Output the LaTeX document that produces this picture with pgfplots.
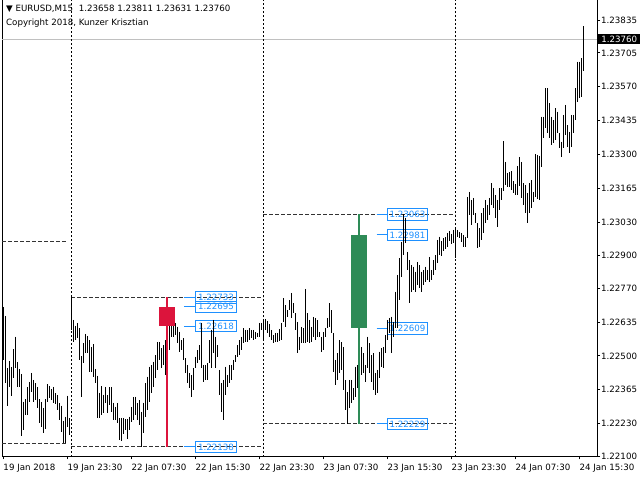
\documentclass[border=0pt]{standalone}
\usepackage{fontspec}
\setmainfont{DejaVu Sans}
\usepackage{pgfplots}
\pgfplotsset{compat=1.18}
\usepackage{pgfplotstable}

\definecolor{crimson}{HTML}{DC143C}
\definecolor{seagreen}{HTML}{2E8B57}
\definecolor{dodger}{HTML}{1E90FF}
\definecolor{bidgray}{HTML}{C0C0C0}

% EURUSD M15 bars: index, low, high (19 Jan 15:30 = 0)
\pgfplotstableread{
i lo hi
0 1.22484 1.22695
1 1.22393 1.22659
2 1.22302 1.22452
3 1.22377 1.22480
4 1.22342 1.22456
5 1.22412 1.22527
6 1.22452 1.22576
7 1.22377 1.22476
8 1.22377 1.22448
9 1.22182 1.22428
10 1.22205 1.22318
11 1.22265 1.22328
12 1.22265 1.22377
13 1.22318 1.22396
14 1.22356 1.22432
15 1.22317 1.22404
16 1.22324 1.22392
17 1.22293 1.22377
18 1.22233 1.22328
19 1.22218 1.22317
20 1.22193 1.22293
21 1.22209 1.22328
22 1.22318 1.22388
23 1.22332 1.22381
24 1.22324 1.22368
25 1.22313 1.22377
26 1.22309 1.22352
27 1.22285 1.22344
28 1.22245 1.22313
29 1.22198 1.22302
30 1.22152 1.22242
31 1.22152 1.22258
32 1.22218 1.22342
33 1.22185 1.22253
34 1.22603 1.22733
35 1.22556 1.22643
36 1.22563 1.22620
37 1.22571 1.22631
38 1.22484 1.22611
39 1.22338 1.22499
40 1.22472 1.22551
41 1.22511 1.22587
42 1.22513 1.22579
43 1.22437 1.22563
44 1.22437 1.22536
45 1.22417 1.22547
46 1.22392 1.22448
47 1.22253 1.22421
48 1.22253 1.22354
49 1.22265 1.22380
50 1.22273 1.22346
51 1.22313 1.22377
52 1.22273 1.22344
53 1.22305 1.22376
54 1.22278 1.22377
55 1.22245 1.22314
56 1.22245 1.22298
57 1.22233 1.22313
58 1.22165 1.22253
59 1.22163 1.22253
60 1.22189 1.22253
61 1.22205 1.22249
62 1.22169 1.22249
63 1.22205 1.22258
64 1.22238 1.22297
65 1.22245 1.22336
66 1.22265 1.22338
67 1.22245 1.22313
68 1.22225 1.22324
69 1.22138 1.22278
70 1.22192 1.22314
71 1.22258 1.22392
72 1.22285 1.22417
73 1.22318 1.22457
74 1.22352 1.22464
75 1.22377 1.22477
76 1.22411 1.22503
77 1.22444 1.22556
78 1.22484 1.22556
79 1.22452 1.22531
80 1.22464 1.22543
81 1.22424 1.22563
82 1.22543 1.22663
83 1.22523 1.22671
84 1.22576 1.22631
85 1.22576 1.22676
86 1.22583 1.22631
87 1.22550 1.22616
88 1.22517 1.22596
89 1.22523 1.22563
90 1.22484 1.22571
91 1.22432 1.22491
92 1.22391 1.22464
93 1.22371 1.22432
94 1.22338 1.22424
95 1.22364 1.22452
96 1.22452 1.22497
97 1.22470 1.22523
98 1.22484 1.22543
99 1.22451 1.22630
100 1.22397 1.22464
101 1.22404 1.22464
102 1.22404 1.22470
103 1.22470 1.22563
104 1.22451 1.22603
105 1.22510 1.22643
106 1.22451 1.22576
107 1.22497 1.22543
108 1.22344 1.22444
109 1.22278 1.22391
110 1.22245 1.22404
111 1.22344 1.22457
112 1.22377 1.22424
113 1.22391 1.22464
114 1.22404 1.22464
115 1.22444 1.22484
116 1.22477 1.22503
117 1.22497 1.22543
118 1.22503 1.22563
119 1.22523 1.22576
120 1.22550 1.22610
121 1.22556 1.22603
122 1.22556 1.22603
123 1.22563 1.22610
124 1.22571 1.22603
125 1.22563 1.22603
126 1.22567 1.22595
127 1.22575 1.22591
128 1.22575 1.22631
129 1.22603 1.22631
130 1.22563 1.22647
131 1.22603 1.22647
132 1.22591 1.22639
133 1.22575 1.22627
134 1.22563 1.22603
135 1.22551 1.22583
136 1.22555 1.22591
137 1.22555 1.22591
138 1.22559 1.22607
139 1.22563 1.22631
140 1.22635 1.22730
141 1.22615 1.22702
142 1.22655 1.22682
143 1.22682 1.22722
144 1.22651 1.22750
145 1.22670 1.22710
146 1.22603 1.22670
147 1.22511 1.22635
148 1.22523 1.22575
149 1.22551 1.22615
150 1.22551 1.22611
151 1.22551 1.22766
152 1.22555 1.22670
153 1.22551 1.22643
154 1.22555 1.22615
155 1.22575 1.22655
156 1.22563 1.22651
157 1.22575 1.22643
158 1.22575 1.22595
159 1.22515 1.22575
160 1.22523 1.22595
161 1.22575 1.22611
162 1.22611 1.22651
163 1.22615 1.22710
164 1.22591 1.22682
165 1.22436 1.22591
166 1.22384 1.22484
167 1.22404 1.22511
168 1.22432 1.22563
169 1.22444 1.22555
170 1.22364 1.22535
171 1.22285 1.22404
172 1.22229 1.22356
173 1.22293 1.22404
174 1.22313 1.22404
175 1.22324 1.22372
176 1.22338 1.22457
177 1.22372 1.22464
178 1.22424 1.22543
179 1.22424 1.22536
180 1.22432 1.22511
181 1.22397 1.22464
182 1.22451 1.22576
183 1.22432 1.22551
184 1.22397 1.22503
185 1.22364 1.22511
186 1.22344 1.22432
187 1.22352 1.22444
188 1.22412 1.22517
189 1.22457 1.22531
190 1.22452 1.22536
191 1.22511 1.22583
192 1.22563 1.22643
193 1.22591 1.22651
194 1.22511 1.22656
195 1.22576 1.22636
196 1.22611 1.22755
197 1.22611 1.22822
198 1.22722 1.22889
199 1.22815 1.22954
200 1.22901 1.23063
201 1.22949 1.23048
202 1.22842 1.22914
203 1.22710 1.22881
204 1.22755 1.22861
205 1.22762 1.22855
206 1.22755 1.22835
207 1.22782 1.22874
208 1.22770 1.22861
209 1.22755 1.22835
210 1.22782 1.22842
211 1.22795 1.22855
212 1.22802 1.22842
213 1.22795 1.22894
214 1.22802 1.22842
215 1.22822 1.22881
216 1.22842 1.22901
217 1.22869 1.22961
218 1.22901 1.22974
219 1.22897 1.22957
220 1.22917 1.22969
221 1.22925 1.22973
222 1.22933 1.22989
223 1.22957 1.22997
224 1.22945 1.22985
225 1.22949 1.23001
226 1.22889 1.23009
227 1.22973 1.23001
228 1.22969 1.22993
229 1.22953 1.22989
230 1.22933 1.22981
231 1.22933 1.22973
232 1.22969 1.23132
233 1.23060 1.23152
234 1.23020 1.23120
235 1.23060 1.23128
236 1.23028 1.23068
237 1.22929 1.23028
238 1.22933 1.23009
239 1.22961 1.23068
240 1.22989 1.23088
241 1.23028 1.23120
242 1.23040 1.23100
243 1.23060 1.23128
244 1.23100 1.23187
245 1.23088 1.23168
246 1.23048 1.23140
247 1.23013 1.23120
248 1.23080 1.23168
249 1.23120 1.23168
250 1.23156 1.23354
251 1.23180 1.23271
252 1.23172 1.23227
253 1.23172 1.23231
254 1.23160 1.23235
255 1.23148 1.23195
256 1.23140 1.23184
257 1.23140 1.23255
258 1.23176 1.23291
259 1.23128 1.23271
260 1.23100 1.23187
261 1.23068 1.23180
262 1.23028 1.23148
263 1.23068 1.23187
264 1.23088 1.23199
265 1.23112 1.23152
266 1.23132 1.23303
267 1.23124 1.23299
268 1.23120 1.23295
269 1.23252 1.23451
270 1.23365 1.23451
271 1.23405 1.23564
272 1.23385 1.23564
273 1.23365 1.23504
274 1.23339 1.23451
275 1.23345 1.23438
276 1.23358 1.23485
277 1.23385 1.23471
278 1.23326 1.23385
279 1.23292 1.23352
280 1.23326 1.23458
281 1.23378 1.23498
282 1.23332 1.23418
283 1.23306 1.23391
284 1.23332 1.23458
285 1.23385 1.23458
286 1.23438 1.23564
287 1.23511 1.23670
288 1.23524 1.23670
289 1.23531 1.23683
290 1.23631 1.23811
}\bars

\newcommand{\tfont}{\fontsize{8.7}{10}\selectfont}

\begin{document}
\begin{tikzpicture}
\begin{axis}[
    at={(2bp,23.5bp)}, anchor=south west,
    scale only axis,
    width=595bp, height=457.5bp,
    xmin=-0.65, xmax=296.85,
    ymin=1.2209975, ymax=1.2391926,
    axis line style={black, line width=1bp},
    tick align=outside,
    major tick length=3bp,
    tick style={black, line width=0.8bp},
    xtick pos=bottom, ytick pos=right, yticklabel pos=right,
    xtick={0,32,...,288},
    xticklabels={19 Jan 2018, 19 Jan 23:30, 22 Jan 07:30, 22 Jan 15:30, 22 Jan 23:30,
                 23 Jan 07:30, 23 Jan 15:30, 23 Jan 23:30, 24 Jan 07:30, 24 Jan 15:30},
    ytick={1.22100,1.22230,1.22365,1.22500,1.22635,1.22770,1.22900,
           1.23030,1.23165,1.23300,1.23435,1.23570,1.23705,1.23835},
    tick label style={font=\tfont},
    xticklabel style={anchor=base west, inner sep=0pt, yshift=-11bp},
    yticklabel style={anchor=west, inner sep=0pt, xshift=1bp,
        /pgf/number format/.cd, fixed, fixed zerofill, precision=5, assume math mode=true},
    scaled y ticks=false,
]
% bid line
\addplot[bidgray, line width=1bp, forget plot] coordinates {(-0.65,1.23760) (296.85,1.23760)};

% day separators
\addplot[black, line width=1bp, dash pattern=on 2bp off 2bp] coordinates {(34,1.21) (34,1.25)};
\addplot[black, line width=1bp, dash pattern=on 2bp off 2bp] coordinates {(130,1.21) (130,1.25)};
\addplot[black, line width=1bp, dash pattern=on 2bp off 2bp] coordinates {(226,1.21) (226,1.25)};

% daily high / low
\addplot[black!80, line width=1bp, dash pattern=on 3.5bp off 2.5bp] coordinates {(-0.65,1.22956) (31.7,1.22956)};
\addplot[black!80, line width=1bp, dash pattern=on 3.5bp off 2.5bp] coordinates {(-0.65,1.22152) (31.7,1.22152)};
\addplot[black!80, line width=1bp, dash pattern=on 3.5bp off 2.5bp] coordinates {(34,1.22733) (130,1.22733)};
\addplot[black!80, line width=1bp, dash pattern=on 3.5bp off 2.5bp] coordinates {(34,1.22138) (130,1.22138)};
\addplot[black!80, line width=1bp, dash pattern=on 3.5bp off 2.5bp] coordinates {(130,1.23063) (226,1.23063)};
\addplot[black!80, line width=1bp, dash pattern=on 3.5bp off 2.5bp] coordinates {(130,1.22229) (226,1.22229)};

% price labels, 22 Jan
\pgfplotsinvokeforeach{1.22733,1.22695,1.22618,1.22138}{
  \addplot[dodger, line width=1bp] coordinates {(90.35,#1) (95.85,#1)};
  \node[draw=dodger, line width=1bp, text=dodger, font=\tfont, anchor=west,
        inner sep=0pt, minimum width=41bp, minimum height=11.5bp]
        at (axis cs:95.85,#1) {#1};
}
% price labels, 23 Jan
\pgfplotsinvokeforeach{1.23063,1.22981,1.22609,1.22229}{
  \addplot[dodger, line width=1bp] coordinates {(186.7,#1) (191.7,#1)};
  \node[draw=dodger, line width=1bp, text=dodger, font=\tfont, anchor=west,
        inner sep=0pt, minimum width=40.5bp, minimum height=11.5bp]
        at (axis cs:191.7,#1) {#1};
}

% M15 bars
\addplot[draw=none, mark=none,
    error bars/.cd, y dir=minus, y explicit, error mark=none,
    error bar style={draw=black, solid, line width=1bp}]
    table[x=i, y=hi, y error expr=\thisrow{hi}-\thisrow{lo}] {\bars};

% daily candles
\addplot[crimson, line width=2.3bp] coordinates {(82,1.22138) (82,1.22733)};
\addplot[fill=crimson, draw=none] coordinates {(78,1.22618) (86,1.22618) (86,1.22695) (78,1.22695)} -- cycle;
\addplot[seagreen, line width=2.3bp] coordinates {(178,1.22229) (178,1.23063)};
\addplot[fill=seagreen, draw=none] coordinates {(174,1.22609) (182,1.22609) (182,1.22981) (174,1.22981)} -- cycle;

\coordinate (bid) at (axis cs:296.85,1.23760);
\end{axis}

\node[anchor=west, fill=black, text=white, font=\tfont, inner xsep=3bp, inner ysep=1.5bp,
      minimum width=43bp, minimum height=9bp] at ([xshift=0.5bp]bid) {1.23760};

\node[anchor=base west, inner sep=0pt, font=\tfont] at (6bp,468bp)
  {▼ EURUSD,M15\ \ 1.23658 1.23811 1.23631 1.23760};
\node[anchor=base west, inner sep=0pt, font=\tfont] at (6bp,454bp)
  {Copyright 2018, Kunzer Krisztian};

\pgfresetboundingbox
\path[use as bounding box] (0,0) rectangle (640bp,480bp);
\end{tikzpicture}
\end{document}
